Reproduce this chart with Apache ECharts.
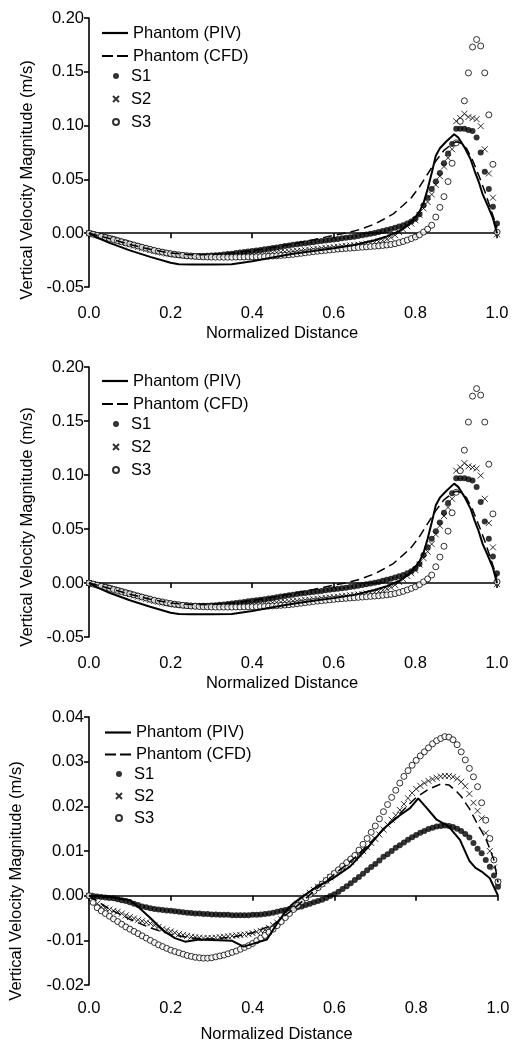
<!DOCTYPE html>
<html><head><meta charset="utf-8">
<script src="https://cdn.jsdelivr.net/npm/echarts@6/dist/echarts.min.js"></script>
<style>html,body{margin:0;padding:0;background:#fff}#c{width:525px;height:1050px}</style>
</head><body><div id="c"></div>
<script>
// Shared sampling positions (normalized distance) of the S1/S2/S3 markers
const xGrid = [0,0.01,0.02,0.03,0.04,0.05,0.06,0.07,0.08,0.09,0.10,0.11,0.12,0.13,0.14,0.15,0.16,0.17,0.18,0.19,0.20,
0.21,0.22,0.23,0.24,0.25,0.26,0.27,0.28,0.29,0.30,0.31,0.32,0.33,0.34,0.35,0.36,0.37,0.38,0.39,0.40,
0.41,0.42,0.43,0.44,0.45,0.46,0.47,0.48,0.49,0.50,0.51,0.52,0.53,0.54,0.55,0.56,0.57,0.58,0.59,0.60,
0.61,0.62,0.63,0.64,0.65,0.66,0.67,0.68,0.69,0.70,0.71,0.72,0.73,0.74,0.75,0.76,0.77,0.78,0.79,0.80,
0.81,0.82,0.83,0.84,0.85,0.86,0.87,0.88,0.89,0.90,0.91,0.92,0.93,0.94,0.95,0.96,0.97,0.98,0.99,1.00];

// Panels 1 and 2 (same data)
const topS1 = [0,-0.0008,-0.0017,-0.0026,-0.0035,-0.0045,-0.0055,-0.0065,-0.0076,-0.0087,-0.0098,
-0.011,-0.012,-0.013,-0.014,-0.015,-0.016,-0.017,-0.0178,-0.0186,-0.0193,
-0.0198,-0.0203,-0.0206,-0.0209,-0.021,-0.0211,-0.0211,-0.0211,-0.021,-0.0208,
-0.0205,-0.0202,-0.0198,-0.0194,-0.019,-0.0185,-0.018,-0.0175,-0.017,-0.0165,
-0.016,-0.0155,-0.015,-0.0144,-0.0138,-0.0132,-0.0126,-0.012,-0.0114,-0.0108,
-0.0103,-0.0098,-0.0093,-0.0088,-0.0083,-0.0078,-0.0073,-0.0068,-0.0063,-0.0058,
-0.0053,-0.0048,-0.0043,-0.0038,-0.0032,-0.0025,-0.0018,-0.0011,-0.0004,0.0003,
0.001,0.002,0.003,0.004,0.005,0.0062,0.0075,0.009,0.0108,0.0135,
0.0175,0.026,0.033,0.041,0.048,0.056,0.065,0.074,0.083,0.097,
0.097,0.097,0.096,0.095,0.089,0.075,0.057,0.041,0.0245,0.009];
const topS2 = [0,-0.0009,-0.0019,-0.0029,-0.0039,-0.005,-0.006,-0.0071,-0.0082,-0.0093,-0.0104,
-0.0116,-0.0127,-0.0137,-0.0147,-0.0157,-0.0166,-0.0174,-0.0182,-0.0189,-0.0195,
-0.02,-0.0204,-0.0208,-0.0211,-0.0213,-0.0215,-0.0216,-0.0216,-0.0216,-0.0215,
-0.0214,-0.0213,-0.0211,-0.0209,-0.0207,-0.0205,-0.0203,-0.0201,-0.0199,-0.0197,
-0.0195,-0.0192,-0.0189,-0.0186,-0.0183,-0.018,-0.0177,-0.0174,-0.0171,-0.0168,
-0.0165,-0.0162,-0.0158,-0.0154,-0.015,-0.0146,-0.0142,-0.0138,-0.0134,-0.013,
-0.0126,-0.0122,-0.0118,-0.0114,-0.011,-0.0106,-0.0102,-0.0097,-0.0092,-0.0086,
-0.0078,-0.0068,-0.0055,-0.004,-0.0018,0.001,0.0035,0.0065,0.009,0.012,
0.017,0.023,0.029,0.036,0.045,0.053,0.062,0.070,0.078,0.104,
0.107,0.111,0.108,0.107,0.106,0.0995,0.078,0.0555,0.033,-0.001];
const topS3 = [0,-0.001,-0.002,-0.003,-0.004,-0.005,-0.006,-0.007,-0.008,-0.009,-0.010,
-0.011,-0.012,-0.013,-0.014,-0.015,-0.016,-0.0168,-0.0176,-0.0184,-0.019,
-0.0196,-0.0201,-0.0206,-0.021,-0.0213,-0.0216,-0.0218,-0.022,-0.0221,-0.0222,
-0.0223,-0.0223,-0.0223,-0.0223,-0.0223,-0.0222,-0.0222,-0.0221,-0.022,-0.022,
-0.0219,-0.0218,-0.0216,-0.0214,-0.0212,-0.021,-0.0207,-0.0204,-0.0201,-0.0197,
-0.0192,-0.0187,-0.0182,-0.0177,-0.0172,-0.0168,-0.0164,-0.016,-0.0156,-0.0152,
-0.0148,-0.0145,-0.0142,-0.0139,-0.0136,-0.0133,-0.013,-0.0127,-0.0124,-0.0121,
-0.0118,-0.0114,-0.011,-0.0105,-0.0098,-0.0088,-0.0077,-0.0064,-0.005,-0.0035,
-0.0015,0.001,0.0038,0.0074,0.015,0.024,0.034,0.048,0.065,0.084,
0.104,0.123,0.149,0.173,0.180,0.174,0.149,0.110,0.064,0.001];
const topPIV = [[0,0],[0.02,-0.004],[0.05,-0.009],[0.1,-0.016],[0.15,-0.022],[0.2,-0.0275],[0.22,-0.0288],
[0.25,-0.029],[0.3,-0.029],[0.35,-0.0288],[0.4,-0.026],[0.45,-0.0225],[0.5,-0.0192],[0.55,-0.0165],
[0.6,-0.014],[0.65,-0.011],[0.7,-0.0065],[0.73,-0.003],[0.76,0.002],[0.78,0.007],[0.8,0.015],
[0.81,0.02],[0.82,0.028],[0.83,0.041],[0.84,0.056],[0.85,0.072],[0.86,0.079],[0.875,0.085],
[0.895,0.092],[0.905,0.089],[0.92,0.08],[0.935,0.069],[0.945,0.058],[0.955,0.048],[0.965,0.036],
[0.978,0.025],[0.99,0.014],[1.0,0.0]];
const topCFD = [[0,0],[0.05,-0.005],[0.1,-0.0105],[0.15,-0.015],[0.2,-0.0185],[0.25,-0.02],[0.3,-0.0198],
[0.35,-0.0185],[0.4,-0.0162],[0.45,-0.0132],[0.5,-0.0098],[0.55,-0.006],[0.6,-0.002],[0.632,0.0003],
[0.664,0.0035],[0.7,0.0085],[0.72,0.0125],[0.746,0.018],[0.77,0.026],[0.79,0.033],[0.81,0.043],
[0.83,0.055],[0.85,0.067],[0.87,0.077],[0.89,0.083],[0.9,0.085],[0.91,0.084],[0.925,0.079],
[0.94,0.068],[0.955,0.054],[0.97,0.039],[0.985,0.022],[1.0,0.005]];

// Panel 3
const botS1 = [0,-0.0001,-0.0002,-0.0003,-0.0004,-0.0005,-0.0006,-0.0008,-0.001,-0.0012,-0.0015,
-0.0018,-0.0021,-0.0024,-0.0026,-0.0028,-0.003,-0.0031,-0.0032,-0.0033,-0.0034,
-0.0035,-0.0036,-0.0037,-0.0038,-0.0039,-0.004,-0.004,-0.0041,-0.0041,-0.0042,
-0.0042,-0.0043,-0.0043,-0.0043,-0.0044,-0.0044,-0.0044,-0.0044,-0.0044,-0.0043,
-0.0043,-0.0042,-0.0041,-0.004,-0.0038,-0.0036,-0.0034,-0.0032,-0.003,-0.0028,
-0.0026,-0.0024,-0.0021,-0.0018,-0.0015,-0.0012,-0.0009,-0.0005,-0.0001,0.0003,
0.0009,0.0015,0.0021,0.0028,0.0035,0.0042,0.0049,0.0057,0.0064,0.0071,
0.0079,0.0087,0.0093,0.01,0.0107,0.0113,0.0119,0.0125,0.0131,0.0136,
0.0141,0.0145,0.0149,0.0152,0.0155,0.0156,0.0157,0.0156,0.0154,0.015,
0.0145,0.0138,0.013,0.0118,0.0105,0.0095,0.008,0.0065,0.0045,0.002];
const botS2 = [0,-0.001,-0.0018,-0.0025,-0.0028,-0.0031,-0.0034,-0.0036,-0.004,-0.0044,-0.0048,
-0.0051,-0.0054,-0.0057,-0.006,-0.0062,-0.0066,-0.007,-0.0074,-0.0077,-0.008,
-0.0083,-0.0086,-0.0088,-0.009,-0.0092,-0.0093,-0.0094,-0.0095,-0.0095,-0.0095,
-0.0094,-0.0093,-0.0092,-0.0091,-0.009,-0.0089,-0.0088,-0.0087,-0.0086,-0.0084,
-0.0081,-0.0079,-0.0077,-0.0072,-0.0066,-0.006,-0.0053,-0.0045,-0.0036,-0.0027,
-0.0018,-0.001,-0.0002,0.0006,0.0013,0.002,0.0027,0.0034,0.0041,0.0048,
0.0055,0.0062,0.0069,0.0076,0.0084,0.0092,0.01,0.0109,0.0118,0.0127,
0.0137,0.0148,0.0159,0.017,0.018,0.0192,0.0205,0.0218,0.023,0.0239,
0.0246,0.0252,0.0257,0.0261,0.0264,0.0267,0.0268,0.0268,0.0266,0.0262,
0.0255,0.0245,0.0228,0.0208,0.019,0.0173,0.014,0.010,0.0063,0.003];
const botS3 = [0,-0.0015,-0.0027,-0.0034,-0.004,-0.0046,-0.0052,-0.0058,-0.0064,-0.007,-0.0075,
-0.008,-0.0085,-0.009,-0.0095,-0.01,-0.0105,-0.011,-0.0114,-0.0118,-0.0122,
-0.0125,-0.0128,-0.0131,-0.0134,-0.0136,-0.0138,-0.0139,-0.014,-0.014,-0.0139,
-0.0137,-0.0135,-0.0133,-0.013,-0.0127,-0.0124,-0.012,-0.0116,-0.0112,-0.0107,
-0.0101,-0.0095,-0.0089,-0.0082,-0.0075,-0.0067,-0.0058,-0.0049,-0.004,-0.0031,
-0.0022,-0.0013,-0.0005,0.0003,0.001,0.0018,0.0026,0.0034,0.0042,0.005,
0.0058,0.0066,0.0074,0.0082,0.009,0.0102,0.0115,0.0128,0.0142,0.0156,
0.0172,0.0188,0.0204,0.022,0.0236,0.0252,0.0267,0.028,0.0292,0.0303,
0.0313,0.0322,0.0331,0.034,0.0347,0.0352,0.0356,0.0355,0.0349,0.0338,
0.0322,0.0304,0.0285,0.0266,0.0244,0.0208,0.0169,0.0128,0.008,0.0031];
const botPIV = [[0,0],[0.05,-0.0003],[0.1,-0.001],[0.12,-0.0025],[0.15,-0.005],[0.18,-0.0077],[0.21,-0.0095],
[0.235,-0.0103],[0.27,-0.0098],[0.3,-0.0099],[0.35,-0.0101],[0.378,-0.0114],[0.40,-0.0108],[0.435,-0.0098],
[0.46,-0.0062],[0.483,-0.0032],[0.5,-0.0017],[0.53,0.0003],[0.557,0.002],[0.597,0.0039],[0.638,0.0065],
[0.68,0.0106],[0.72,0.015],[0.76,0.018],[0.785,0.0196],[0.805,0.0218],[0.826,0.0196],[0.85,0.017],
[0.879,0.0155],[0.907,0.0125],[0.93,0.0078],[0.945,0.0062],[0.96,0.0054],[0.98,0.0039],[1.0,0.0]];
const botCFD = [[0,0],[0.05,-0.003],[0.1,-0.0053],[0.15,-0.0072],[0.2,-0.0087],[0.25,-0.0095],[0.3,-0.0097],
[0.35,-0.0093],[0.4,-0.0083],[0.45,-0.0065],[0.5,-0.003],[0.55,0.001],[0.6,0.0048],[0.65,0.0085],
[0.7,0.013],[0.75,0.0175],[0.8,0.022],[0.83,0.0238],[0.86,0.025],[0.88,0.0248],[0.9,0.0232],
[0.91,0.0222],[0.93,0.0195],[0.95,0.016],[0.97,0.0128],[0.98,0.0105],[0.99,0.008],[1.0,0.003]];

const lineNames = ['Phantom (PIV)','Phantom (CFD)'];
const markNames = ['S1','S2','S3'];
const xTitle = 'Normalized Distance';
const yTitle = 'Vertical Velocity Magnitude (m/s)';

const FONT = 'Liberation Sans, Arial, sans-serif';
const FS = 16.5;
const panels = [
  {top:18, height:269, left:89, right:28, ymin:-0.05, ymax:0.20, yint:0.05, dec:2,
   S1:topS1, S2:topS2, S3:topS3, PIV:topPIV, CFD:topCFD, yShift:55, xShift:22, yGap:42, xGap:38, lblMargin:18,
   legL:{left:102, top:24.5, gap:6}, legM:{left:112, top:67.5, gap:6}},
  {top:367, height:270, left:89, right:28, ymin:-0.05, ymax:0.20, yint:0.05, dec:2,
   S1:topS1, S2:topS2, S3:topS3, PIV:topPIV, CFD:topCFD, yShift:50, xShift:22, yGap:42, xGap:38, lblMargin:18,
   legL:{left:102, top:372.5, gap:6}, legM:{left:112, top:415.5, gap:6}},
  {top:717, height:268, left:89, right:27, ymin:-0.02, ymax:0.04, yint:0.01, dec:2,
   S1:botS1, S2:botS2, S3:botS3, PIV:botPIV, CFD:botCFD, yShift:60, xShift:34, yGap:64, xGap:41, lblMargin:15,
   legL:{left:105, top:724, gap:5}, legM:{left:115, top:765.5, gap:5}}
];

const grids=[], xAxes=[], yAxes=[], series=[], legends=[];
const axisCommon = {
  axisLine:{show:true, lineStyle:{color:'#000', width:1.6}},
  axisTick:{show:true, length:5, inside:false, lineStyle:{color:'#000', width:1.6}},
  splitLine:{show:false}
};
const solidIcon = 'path://M0,0H26V2.2H0Z';
const dashIcon = 'path://M0,0H11V2H0Z M15,0H26V2H15Z';
panels.forEach((p,i)=>{
  grids.push({left:p.left, right:p.right, top:p.top, height:p.height, containLabel:false});
  xAxes.push(Object.assign({}, axisCommon, {
    type:'value', gridIndex:i, min:0, max:1, interval:0.2,
    axisLabel:{color:'#000', fontSize:FS, fontFamily:FONT, margin:p.lblMargin, formatter:v=>v.toFixed(1)},
    name:xTitle, nameLocation:'middle', nameGap:p.xGap,
    nameTextStyle:{color:'#000', fontSize:FS, fontFamily:FONT, padding:[0,p.xShift,0,0]}
  }));
  yAxes.push(Object.assign({}, axisCommon, {
    type:'value', gridIndex:i, min:p.ymin, max:p.ymax, interval:p.yint,
    axisLabel:{color:'#000', fontSize:FS, fontFamily:FONT, margin:5, formatter:v=>v.toFixed(p.dec)},
    name:yTitle, nameLocation:'middle', nameGap:p.yGap, nameRotate:90,
    nameTextStyle:{color:'#000', fontSize:FS, fontFamily:FONT, padding:[0,p.yShift,0,0]}
  }));
  const pts = ys => xGrid.map((x,k)=>[x, ys[k]]);
  series.push({name:'S1', type:'scatter', xAxisIndex:i, yAxisIndex:i, data:pts(p.S1),
    symbol:'circle', symbolSize:6, itemStyle:{color:'#000'}, silent:true, z:2});
  series.push({name:'S2', type:'scatter', xAxisIndex:i, yAxisIndex:i, data:pts(p.S2),
    symbol:'path://M0,0L10,10M10,0L0,10', symbolSize:6,
    itemStyle:{color:'rgba(0,0,0,0)', borderColor:'#000', borderWidth:1}, silent:true, z:2});
  series.push({name:'S3', type:'scatter', xAxisIndex:i, yAxisIndex:i, data:pts(p.S3),
    symbol:'circle', symbolSize:6,
    itemStyle:{color:'#fff', borderColor:'#000', borderWidth:1}, silent:true, z:2});
  series.push({name:'Phantom (PIV)', type:'line', xAxisIndex:i, yAxisIndex:i, data:p.PIV,
    symbol:'none', lineStyle:{color:'#000', width:2}, itemStyle:{color:'#000'}, silent:true, z:3});
  series.push({name:'Phantom (CFD)', type:'line', xAxisIndex:i, yAxisIndex:i, data:p.CFD,
    symbol:'none', lineStyle:{color:'#000', width:1.5, type:[9,5]}, itemStyle:{color:'#000'}, silent:true, z:3});
  legends.push({data:[{name:lineNames[0], icon:solidIcon},{name:lineNames[1], icon:dashIcon}],
    orient:'vertical', left:p.legL.left, top:p.legL.top, itemGap:p.legL.gap,
    itemWidth:26, itemHeight:12, padding:0, selectedMode:false, symbolKeepAspect:true,
    itemStyle:{color:'#000', borderWidth:0},
    textStyle:{color:'#000', fontSize:FS, fontFamily:FONT}});
  legends.push({data:markNames, orient:'vertical', left:p.legM.left, top:p.legM.top, itemGap:p.legM.gap,
    itemWidth:20, itemHeight:6, padding:0, selectedMode:false,
    textStyle:{color:'#000', fontSize:FS, fontFamily:FONT}});
});

const chart = echarts.init(document.getElementById('c'), null, {renderer:'canvas'});
chart.setOption({animation:false, backgroundColor:'#fff', grid:grids, xAxis:xAxes, yAxis:yAxes, series:series, legend:legends});
</script></body></html>
